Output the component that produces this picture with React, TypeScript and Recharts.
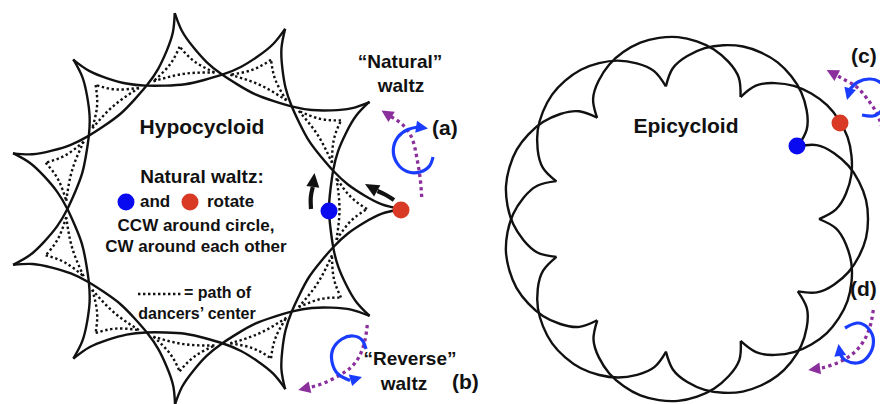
import { ComposedChart, Line, Scatter, XAxis, YAxis } from 'recharts';

const W = 880;
const H = 404;

// Both figures share 11 cusps. Angles are in degrees, counter-clockwise from 3 o'clock.
const cuspAngles = [0, 32.7, 65.5, 98.2, 130.9, 163.6, 196.4, 229.1, 261.8, 294.5, 327.3];
const hypoCentre = [203, 209];
const epiCentre = [685, 219];

// one arc, from a cusp to the cusp two places on: [angle past the first cusp, radius px]
const hypoArcShape = [
  [0, 198], [1.5, 179], [4.8, 162], [9.6, 147], [16.1, 136], [24, 129], [32.7, 126],
  [41.5, 129], [49.4, 136], [55.9, 147], [60.7, 162], [64, 179], [65.5, 198],
];
const epiArcShape = [
  [0, 134], [3.6, 151], [9, 163], [14.8, 172], [20.7, 178], [26.7, 182], [32.7, 183],
  [38.7, 182], [44.8, 178], [50.7, 172], [56.5, 163], [62, 151], [65.5, 134],
];
// dotted path of the dancers' centre inside each hypocycloid cusp (three concave sides)
const centrePathSides = [
  [[0, 164], [4.8, 148], [13, 137]],
  [[13, 137], [0, 136.5], [-13, 137]],
  [[-13, 137], [-4.8, 148], [0, 164]],
];

const legendDots = [[138, 294], [181, 294]];
const blueDots = [[329, 211], [126, 202], [797, 146]];
const redDots = [[401, 210], [190, 202], [840, 123]];

// arrows: last point is the tip of the head
const moveArrows = [
  [[311, 209], [310.8, 197], [312.8, 187], [314.5, 173]],
  [[394, 200], [386, 195], [377.5, 191], [365, 184]],
];
const driftArrows = [
  [[421.7, 197], [420, 177], [416.7, 157], [413, 141], [405, 127], [391, 116.5], [381.5, 110.5]],
  [[367.3, 325], [365, 340], [360, 355], [351.7, 366.7], [340, 375], [323.3, 383.3], [309, 387.5], [298.3, 390]],
  [[882, 128], [876.7, 113], [867, 98.5], [856.7, 87], [845, 80], [837, 75.5], [826.7, 70]],
  [[873.3, 310], [870, 326.7], [863.3, 341.7], [853.3, 353.3], [840, 361.7], [826.7, 366.7], [819, 368.5], [808.3, 370]],
];
const turnArrows = [
  [[433, 157], [429.5, 166], [420, 172], [407, 171.5], [397, 163], [393.3, 150], [398, 137], [408, 129.5], [418, 127], [428, 128.5]],
  [[366, 349], [362, 340], [353, 336], [342, 339], [333, 349], [332, 362], [338, 374], [350, 380.5], [362, 377]],
  [[862, 115], [873, 116], [882, 110], [887, 97], [882, 84], [870, 79], [858, 82], [850, 89], [847, 100]],
  [[845, 328], [857, 323], [868, 328], [873.5, 341.5], [868, 356.5], [857, 363], [845, 360], [840, 354], [838.5, 344]],
];

const FONT = "'Liberation Sans', Arial, Helvetica, sans-serif";
const notes = [
  { x: 202, y: 134, text: 'Hypocycloid', size: 21, anchor: 'middle' },
  { x: 202, y: 183, text: 'Natural waltz:', size: 19, anchor: 'middle' },
  { x: 140, y: 207, text: 'and', size: 17, anchor: 'start' },
  { x: 207, y: 207, text: 'rotate', size: 17, anchor: 'start' },
  { x: 196, y: 231, text: 'CCW around circle,', size: 17, anchor: 'middle' },
  { x: 196, y: 252, text: 'CW around each other', size: 17, anchor: 'middle' },
  { x: 184, y: 298, text: '= path of', size: 16, anchor: 'start' },
  { x: 197, y: 319, text: 'dancers\u2019 center', size: 16, anchor: 'middle' },
  { x: 400, y: 68, text: '\u201CNatural\u201D', size: 19, anchor: 'middle' },
  { x: 401, y: 92, text: 'waltz', size: 19, anchor: 'middle' },
  { x: 432, y: 135, text: '(a)', size: 21, anchor: 'start' },
  { x: 410, y: 365, text: '\u201CReverse\u201D', size: 19, anchor: 'middle' },
  { x: 404, y: 390, text: 'waltz', size: 19, anchor: 'middle' },
  { x: 452, y: 389, text: '(b)', size: 21, anchor: 'start' },
  { x: 686, y: 133, text: 'Epicycloid', size: 21, anchor: 'middle' },
  { x: 851, y: 63, text: '(c)', size: 21, anchor: 'start' },
  { x: 850, y: 296, text: '(d)', size: 21, anchor: 'start' },
];

type Pt = { x: number; y: number };
const toPt = ([x, y]: number[]): Pt => ({ x, y });
const polar = (c: number[], deg: number, r: number): Pt => {
  const a = (deg * Math.PI) / 180;
  return { x: c[0] + r * Math.cos(a), y: c[1] - r * Math.sin(a) };
};

const hypoArcs = cuspAngles.map((c) => hypoArcShape.map(([da, r]) => polar(hypoCentre, c + da, r)));
const epiArcs = cuspAngles.map((c) => epiArcShape.map(([da, r]) => polar(epiCentre, c + da, r)));
const centrePaths = cuspAngles.flatMap((c) =>
  centrePathSides.map((side) => side.map(([da, r]) => polar(hypoCentre, c + da, r)))
);

// shaft = every point but the tip; head sits on the tip, turned along the last step
const shaft = (pts: number[][]) => pts.slice(0, -1).map(toPt);
const heads = (list: number[][][]) =>
  list.map((pts) => {
    const a = pts[pts.length - 2];
    const b = pts[pts.length - 1];
    return { x: b[0], y: b[1], angle: (Math.atan2(b[1] - a[1], b[0] - a[0]) * 180) / Math.PI };
  });

const lineProps = {
  type: 'natural' as const,
  dataKey: 'y',
  dot: false,
  activeDot: false,
  isAnimationActive: false,
  legendType: 'none' as const,
};

const headShape = (color: string, len: number, wid: number) => (p: any) => (
  <polygon
    points={`0,0 ${-len},${-wid / 2} ${-len},${wid / 2}`}
    transform={`translate(${p.cx},${p.cy}) rotate(${p.payload.angle})`}
    fill={color}
  />
);

const dotShape = (color: string, r: number) => (p: any) => (
  <circle cx={p.cx} cy={p.cy} r={r} fill={color} />
);

const noteShape = (p: any) => (
  <text
    x={p.cx}
    y={p.cy}
    textAnchor={p.payload.anchor}
    fontSize={p.payload.size}
    fontWeight={700}
    fontFamily={FONT}
    fill="#111"
  >
    {p.payload.text}
  </text>
);

const BLACK = '#111111';
const BLUE = '#1a3cff';
const PURPLE = '#8a2f9c';

export default function App() {
  return (
    <div style={{ position: 'absolute', left: 0, top: 0, background: '#fff' }}>
      <ComposedChart width={W} height={H} margin={{ top: 0, right: 0, bottom: 0, left: 0 }}>
        <XAxis type="number" dataKey="x" domain={[0, W]} hide allowDataOverflow />
        <YAxis type="number" dataKey="y" domain={[0, H]} reversed hide allowDataOverflow />

        {/* hypocycloid */}
        {hypoArcs.map((pts, i) => (
          <Line key={`h${i}`} {...lineProps} data={pts} stroke={BLACK} strokeWidth={2.4} />
        ))}
        {centrePaths.map((pts, i) => (
          <Line
            key={`c${i}`}
            {...lineProps}
            data={pts}
            stroke={BLACK}
            strokeWidth={2.4}
            strokeDasharray="2.4 2.6"
          />
        ))}
        <Line
          {...lineProps}
          type="linear"
          data={legendDots.map(toPt)}
          stroke={BLACK}
          strokeWidth={2.4}
          strokeDasharray="2.4 2.6"
        />

        {/* epicycloid */}
        {epiArcs.map((pts, i) => (
          <Line key={`e${i}`} {...lineProps} data={pts} stroke={BLACK} strokeWidth={2.4} />
        ))}

        {/* arrows */}
        {moveArrows.map((pts, i) => (
          <Line key={`m${i}`} {...lineProps} data={shaft(pts)} stroke={BLACK} strokeWidth={4.2} />
        ))}
        {driftArrows.map((pts, i) => (
          <Line
            key={`d${i}`}
            {...lineProps}
            data={shaft(pts)}
            stroke={PURPLE}
            strokeWidth={3.3}
            strokeDasharray="3.3 3.4"
          />
        ))}
        {turnArrows.map((pts, i) => (
          <Line key={`t${i}`} {...lineProps} data={shaft(pts)} stroke={BLUE} strokeWidth={3.2} />
        ))}
        <Scatter data={heads(moveArrows)} shape={headShape(BLACK, 14, 13)} isAnimationActive={false} />
        <Scatter data={heads(driftArrows)} shape={headShape(PURPLE, 12, 12)} isAnimationActive={false} />
        <Scatter data={heads(turnArrows)} shape={headShape(BLUE, 12, 12)} isAnimationActive={false} />

        {/* dancers */}
        <Scatter data={blueDots.map(toPt)} shape={dotShape('#0a0af0', 8.5)} isAnimationActive={false} />
        <Scatter data={redDots.map(toPt)} shape={dotShape('#d93a26', 8.5)} isAnimationActive={false} />

        {/* text */}
        <Scatter data={notes} shape={noteShape} isAnimationActive={false} />
      </ComposedChart>
    </div>
  );
}
